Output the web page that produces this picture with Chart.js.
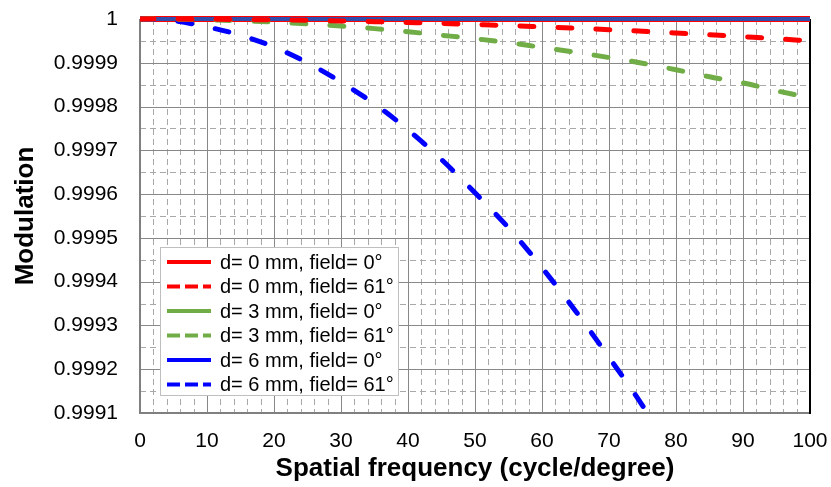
<!DOCTYPE html>
<html>
<head>
<meta charset="utf-8">
<script src="https://cdn.jsdelivr.net/npm/chart.js@4/dist/chart.umd.min.js"></script>
<style>
  html, body { margin: 0; padding: 0; background: #fff; }
  canvas { display: block; }
</style>
</head>
<body>
<canvas id="mtf" width="831" height="487"></canvas>
<script>
// Spatial frequency samples (cycle/degree)
const freq = [0, 5, 10, 15, 20, 25, 30, 35, 40, 45, 50, 55, 60, 65, 70, 75, 80, 85, 90, 95, 100];

// Modulation
const d0Field0  = [1, 1, 1, 1, 1, 1, 1, 1, 1, 1, 1, 1, 1, 1, 1, 1, 1, 1, 1, 1, 1];
const d0Field61 = [1, 0.9999999, 0.9999995, 0.9999989, 0.999998, 0.9999969, 0.9999955, 0.9999939, 0.999992, 0.99999,
                   0.9999875, 0.999985, 0.999982, 0.999979, 0.9999755, 0.999972, 0.999968, 0.999964, 0.9999595, 0.999955, 0.99995];
const d3Field0  = [1, 1, 1, 1, 1, 1, 1, 1, 1, 1, 1, 1, 1, 1, 1, 1, 1, 1, 1, 1, 1];
const d3Field61 = [1, 0.9999996, 0.9999982, 0.999996, 0.9999928, 0.9999888, 0.999984, 0.999978, 0.999971, 0.999963,
                   0.999955, 0.999946, 0.999935, 0.999924, 0.999912, 0.999899, 0.999884, 0.999868, 0.999854, 0.999836, 0.99982];
const d6Field0  = [1, 1, 1, 1, 1, 1, 1, 1, 1, 1, 1, 1, 1, 1, 1, 1, 1, 1, 1, 1, 1];
const d6Field61 = [1, 0.999996, 0.999982, 0.999963, 0.999936, 0.9999, 0.999856, 0.999806, 0.999747, 0.999679,
                   0.999603, 0.999523, 0.999432, 0.999333, 0.999227, 0.999117, 0.99899];

const xTicks = [0, 10, 20, 30, 40, 50, 60, 70, 80, 90, 100];
const yTicks = [0.9991, 0.9992, 0.9993, 0.9994, 0.9995, 0.9996, 0.9997, 0.9998, 0.9999, 1];

const FONT = "'Liberation Sans', Arial, sans-serif";
const RED = '#ff0000', GREEN = '#70ad47', BLUE = '#0000ff';

const pts = (vals) => vals.map((v, i) => ({ x: freq[i], y: v }));

const series = (label, vals, color, dashed, order, legendColor) => ({
  label,
  data: pts(vals),
  borderColor: color,
  legendColor: legendColor || color,
  borderWidth: dashed ? 5 : (order === 3 ? 6 : 4),
  borderDash: dashed ? [14, 24] : [],
  borderCapStyle: dashed ? 'round' : 'butt',
  pointRadius: 0,
  fill: false,
  cubicInterpolationMode: 'monotone',
  order,
  clip: { left: 0, right: 0, top: 4, bottom: 0 },
});

// no label-overflow padding from the scales; layout.padding decides the plot box
const noScalePadding = (s) => { s.paddingTop = 0; s.paddingBottom = 0; s.paddingLeft = 0; s.paddingRight = 0; };

// grid: solid majors, dashed minors, plus the plot frame
const gridPlugin = {
  id: 'excelGrid',
  beforeDatasetsDraw(chart) {
    const { ctx, chartArea: a, scales: { x, y } } = chart;
    const seg = (x1, y1, x2, y2) => { ctx.beginPath(); ctx.moveTo(x1, y1); ctx.lineTo(x2, y2); ctx.stroke(); };
    ctx.save();
    ctx.lineWidth = 1;
    ctx.strokeStyle = '#a8a8a8';
    ctx.setLineDash([6, 4]);
    for (let v = 2; v < 100; v += 2) {
      if (v % 10 === 0) continue;
      const px = Math.round(x.getPixelForValue(v)) + 0.5;
      seg(px, a.top, px, a.bottom);
    }
    for (let i = 0; i < yTicks.length - 1; i++) {
      const py = Math.round(y.getPixelForValue((yTicks[i] + yTicks[i + 1]) / 2)) + 0.5;
      seg(a.left, py, a.right, py);
    }
    ctx.setLineDash([]);
    ctx.strokeStyle = '#888';
    xTicks.slice(1, -1).forEach((v) => {
      const px = Math.round(x.getPixelForValue(v)) + 0.5;
      seg(px, a.top, px, a.bottom);
    });
    yTicks.slice(1, -1).forEach((v) => {
      const py = Math.round(y.getPixelForValue(v)) + 0.5;
      seg(a.left, py, a.right, py);
    });
    // frame
    ctx.lineWidth = 2;
    ctx.strokeStyle = '#808080';
    seg(a.left, a.top, a.left, a.bottom + 1);
    seg(a.left - 1, a.bottom, a.right, a.bottom);
    seg(a.left, a.top, a.right, a.top);
    ctx.strokeStyle = '#000';
    seg(a.right, a.top, a.right, a.bottom + 1);
    ctx.restore();
  },
};

// legend boxed inside the plot, lower left
const legendPlugin = {
  id: 'insideLegend',
  afterDatasetsDraw(chart) {
    const { ctx } = chart;
    const bx = 160, by = 247, bw = 238, bh = 148, row = 24.5;
    ctx.save();
    ctx.fillStyle = '#fff';
    ctx.fillRect(bx, by, bw, bh);
    ctx.strokeStyle = '#bfbfbf';
    ctx.lineWidth = 1;
    ctx.strokeRect(bx + 0.5, by + 0.5, bw, bh);
    ctx.font = '20px ' + FONT;
    ctx.textBaseline = 'middle';
    ctx.fillStyle = '#000';
    chart.data.datasets.forEach((d, i) => {
      const cy = by + 15 + i * row;
      ctx.strokeStyle = d.legendColor;
      ctx.lineWidth = 4;
      ctx.lineCap = 'butt';
      ctx.setLineDash(d.borderDash.length ? [13, 5] : []);
      ctx.beginPath();
      ctx.moveTo(167, cy);
      ctx.lineTo(211, cy);
      ctx.stroke();
      ctx.setLineDash([]);
      ctx.fillText(d.label, 220, cy + 1);
    });
    ctx.restore();
  },
};

new Chart(document.getElementById('mtf').getContext('2d'), {
  type: 'line',
  data: {
    datasets: [
      series('d= 0 mm, field= 0°', d0Field0, RED, false, 3),
      series('d= 0 mm, field= 61°', d0Field61, RED, true, 0),
      series('d= 3 mm, field= 0°', d3Field0, GREEN, false, 2),
      series('d= 3 mm, field= 61°', d3Field61, GREEN, true, 0),
      series('d= 6 mm, field= 0°', d6Field0, 'rgba(0,0,255,0.55)', false, 1, BLUE),
      series('d= 6 mm, field= 61°', d6Field61, BLUE, true, 0),
    ],
  },
  options: {
    responsive: false,
    animation: false,
    layout: { padding: { top: 19, right: 21, left: 0, bottom: 0 } },
    plugins: { legend: { display: false }, tooltip: { enabled: false } },
    scales: {
      x: {
        type: 'linear',
        min: 0,
        max: 100,
        afterBuildTicks: (s) => { s.ticks = xTicks.map((v) => ({ value: v })); },
        afterFit: (s) => { s.height = 74; noScalePadding(s); },
        grid: { display: false, drawTicks: false },
        border: { display: false },
        ticks: { color: '#000', padding: 16, maxRotation: 0, font: { family: FONT, size: 21 } },
        title: {
          display: true,
          text: 'Spatial frequency (cycle/degree)',
          color: '#000',
          padding: { top: 0, bottom: 3 },
          font: { family: FONT, size: 26, weight: 'bold' },
        },
      },
      y: {
        type: 'linear',
        min: 0.9991,
        max: 1,
        afterBuildTicks: (s) => { s.ticks = yTicks.map((v) => ({ value: v })); },
        afterFit: (s) => { s.width = 140; noScalePadding(s); },
        grid: { display: false, drawTicks: false },
        border: { display: false },
        ticks: { color: '#000', padding: 22, font: { family: FONT, size: 21 }, callback: (v) => String(+v.toFixed(4)) },
        title: {
          display: true,
          text: 'Modulation',
          color: '#000',
          padding: { top: 10, bottom: 0 },
          font: { family: FONT, size: 26, weight: 'bold' },
        },
      },
    },
  },
  plugins: [gridPlugin, legendPlugin],
});
</script>
</body>
</html>
